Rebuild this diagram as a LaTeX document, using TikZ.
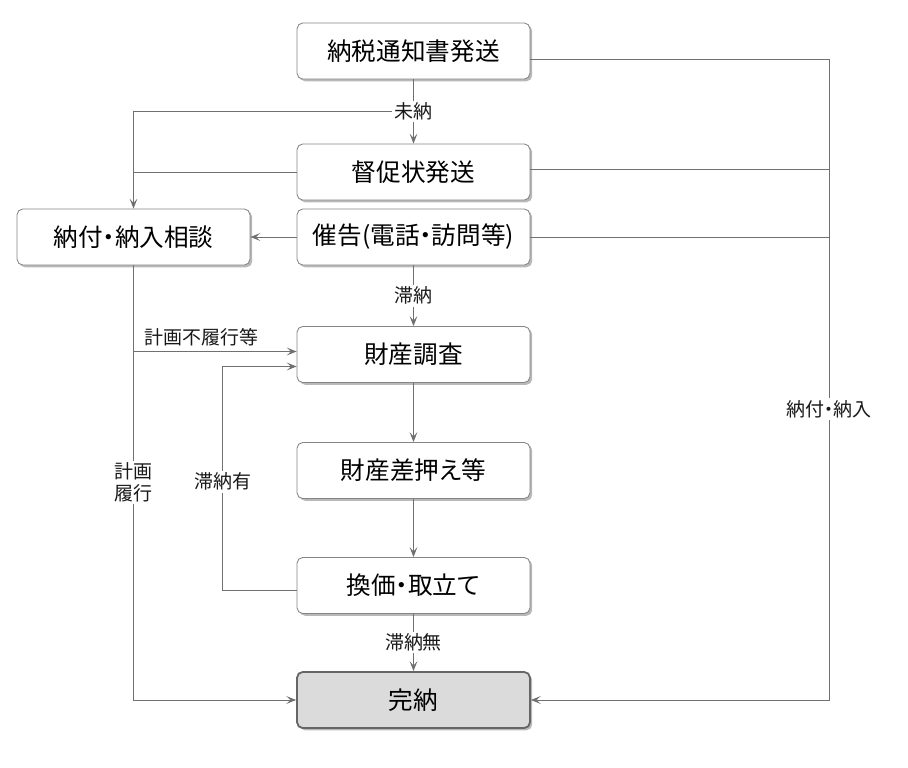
\documentclass[tikz,border=0pt]{standalone}
\usepackage{fontspec}
\setmainfont[RawFeature=+palt]{Noto Sans CJK JP}
\usepackage{xcolor}
\usepackage{tikz}
\usetikzlibrary{arrows.meta,shadows,calc}

\definecolor{linegray}{HTML}{707070}
\definecolor{boxgray}{HTML}{858585}

\begin{document}
\begin{tikzpicture}[x=0.025cm, y=-0.025cm,
    stepbox/.style={rectangle, rounded corners=4pt, minimum width=5.82cm, minimum height=1.4cm, text centered, draw=boxgray, line width=0.6pt, fill=white, font=\fontsize{17.5}{20}\selectfont, drop shadow={shadow xshift=1.6pt, shadow yshift=-1.6pt, fill=black!55, opacity=0.5}},
    endbox/.style={stepbox, draw=black!60, line width=1.3pt, fill=black!14},
    edgelabel/.style={fill=white, inner sep=1.5pt, align=center, text=black!90, font=\fontsize{13.5}{15.5}\selectfont},
    arrow/.style={draw=linegray, line width=0.7pt, -{Stealth[length=7pt, width=5.5pt, inset=3pt]}},
    line/.style={draw=linegray, line width=0.7pt}
]
    \useasboundingbox (0,0) rectangle (908,768);

    % Main column
    \node[stepbox] (notice)   at (413.5, 51)    {納税通知書発送};
    \node[stepbox] (reminder) at (413.5, 172)   {督促状発送};
    \node[stepbox] (demand)   at (413.5, 237)   {催告(電話・訪問等)};
    \node[stepbox] (survey)   at (413.5, 354.5) {財産調査};
    \node[stepbox] (seize)    at (413.5, 470.5) {財産差押え等};
    \node[stepbox] (realize)  at (413.5, 585.5) {換価・取立て};
    \node[endbox]  (done)     at (413.5, 700)   {完納};

    % Consultation box on the left
    \node[stepbox] (consult)  at (133.5, 237)   {納付・納入相談};

    % Rails
    \coordinate (rail) at (829, 0);
    \coordinate (unpaid) at ($(notice.south)!0.5!(reminder.north)$);
    \coordinate (notice out) at ($(notice.east)+(0,8)$);
    \coordinate (reminder out) at ($(reminder.east)+(0,-3)$);

    % Left branch to consultation
    \draw[arrow] (unpaid) -| (consult.north);
    \draw[line] (reminder.west) -- (reminder.west -| consult.north);
    \draw[arrow] (demand) -- (consult);

    % Main sequence
    \draw[arrow] (notice) -- (reminder) node[edgelabel, midway] {未納};
    \draw[arrow] (demand) -- (survey) node[edgelabel, midway] {滞納};
    \draw[arrow] (survey) -- (seize);
    \draw[arrow] (seize) -- (realize);
    \draw[arrow] (realize) -- (done) node[edgelabel, midway] {滞納無};

    % Consultation outcomes
    \draw[arrow] (consult.south) |- (done.west) node[edgelabel, pos=0.25] {計画\\履行};
    \draw[arrow] ($(consult.south |- survey.west)+(0,-3)$) -- ($(survey.west)+(0,-3)$)
        node[pos=0, anchor=south west, xshift=6pt, yshift=2pt, edgelabel, fill=none] {計画不履行等};

    % Loop back when arrears remain
    \draw[arrow] ($(realize.west)+(0,5)$) -- ++(-74,0) |- ($(survey.west)+(0,12)$)
        node[edgelabel, pos=0.243] {滞納有};

    % Right rail to completion
    \draw[line] (reminder out) -- (reminder out -| rail);
    \draw[line] (demand.east) -- (demand.east -| rail);
    \draw[arrow] (notice out) -- (notice out -| rail) |- (done.east)
        node[edgelabel, pos=0.273] {納付・納入};

\end{tikzpicture}
\end{document}
